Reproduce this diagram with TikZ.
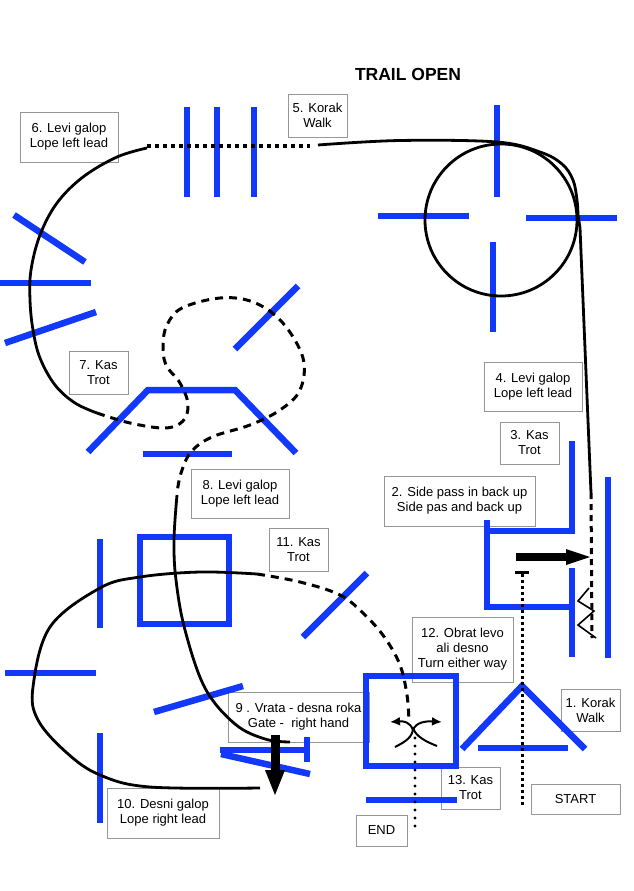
\documentclass[tikz,border=0pt]{standalone}
\usepackage{fontspec}
\setmainfont{Liberation Sans}
\usetikzlibrary{arrows.meta}
\definecolor{poleblue}{RGB}{18,56,250}
\definecolor{boxgray}{RGB}{150,150,150}
\begin{document}
\begin{tikzpicture}[x=1pt,y=-1pt,
  lbl/.style={draw=boxgray,line width=1pt,inner sep=0pt,align=center,font=\fontsize{13}{15}\selectfont},
  pole/.style={draw=poleblue,line width=6.5pt},
  track/.style={draw=black,line width=2.8pt},
  walkdots/.style={draw=black,line width=3.5pt,dash pattern=on 4pt off 4pt},
  startdots/.style={draw=black,line width=3pt,dash pattern=on 3pt off 3pt},
  enddots/.style={draw=black,line width=3.2pt,line cap=round,dash pattern=on 0pt off 8pt},
  trotdash/.style={draw=black,line width=3pt,dash pattern=on 8pt off 6pt},
  sidedash/.style={draw=black,line width=3pt,dash pattern=on 6pt off 5pt},
  thin/.style={draw=black,line width=2pt},
  turnarrow/.style={thin,-{Latex[length=10pt,width=9pt]}}]
\useasboundingbox (0,0) rectangle (633,891);

% title
\node[font=\fontsize{17.5}{20}\selectfont\bfseries] (title) at (408,74) {TRAIL OPEN};

% label boxes
\node[lbl,minimum width=59pt,minimum height=42pt] (l1) at (590.5,710) {1. Korak\\Walk};
\node[lbl,minimum width=151pt,minimum height=50pt] (l2) at (459.5,501) {2. Side pass in back up\\Side pas and back up};
\node[lbl,minimum width=59pt,minimum height=42pt] (l3) at (529.5,443) {3. Kas\\Trot};
\node[lbl,minimum width=98pt,minimum height=49pt] (l4) at (533,386.5) {4. Levi galop\\Lope left lead};
\node[lbl,minimum width=59pt,minimum height=43pt] (l5) at (317.5,115.5) {5. Korak\\Walk};
\node[lbl,minimum width=98pt,minimum height=50pt] (l6) at (69,137) {6. Levi galop\\Lope left lead};
\node[lbl,minimum width=59pt,minimum height=43pt] (l7) at (98.5,372.5) {7. Kas\\Trot};
\node[lbl,minimum width=98pt,minimum height=49pt] (l8) at (240,493.5) {8. Levi galop\\Lope left lead};
\node[lbl,minimum width=141pt,minimum height=50pt] (l9) at (298.5,717) {9 . Vrata - desna roka\\Gate -\ \ right hand};
\node[lbl,minimum width=112pt,minimum height=50pt] (l10) at (163,813) {10. Desni galop\\Lope right lead};
\node[lbl,minimum width=59pt,minimum height=43pt] (l11) at (298.5,549.5) {11. Kas\\Trot};
\node[lbl,minimum width=101pt,minimum height=65pt] (l12) at (462.5,649.5) {12. Obrat levo\\ali desno\\Turn either way};
\node[lbl,minimum width=59pt,minimum height=42pt] (l13) at (470.5,788) {13. Kas\\Trot};
\node[lbl,minimum width=89pt,minimum height=30pt] (start) at (575.5,799) {START};
\node[lbl,minimum width=51pt,minimum height=31pt] (end) at (381.5,830.5) {END};

% ---------- blue obstacles ----------
% poles (walk over)
\draw[pole] (187,107) -- (187,197);
\draw[pole] (217,107) -- (217,197);
\draw[pole] (254,107) -- (254,197);
% left side
\draw[pole] (14,215) -- (85,262);
\draw[pole] (0,283) -- (91,283);
\draw[pole] (5,343) -- (96,312);
% circle cross
\draw[pole] (497,105) -- (497,197);
\draw[pole] (493,242) -- (493,332);
\draw[pole] (378,216) -- (469,216);
\draw[pole] (526,218) -- (617,218);
% trapezoid
\draw[pole,line join=miter] (88,452) -- (148,390) -- (235,390) -- (296,453);
\draw[pole] (143,454) -- (232,454);
\draw[pole] (235,349) -- (298,286);
% side pass
\draw[pole,line join=miter] (572,441) -- (572,531) -- (487,531);
\draw[pole,line join=miter] (487,520) -- (487,607) -- (572,607);
\draw[pole] (572,568) -- (572,657);
\draw[pole] (608,477) -- (608,658);
% lower left
\draw[pole] (100,539) -- (100,628);
\draw[pole] (140,537) rectangle (229,624);
\draw[pole] (5,673) -- (96,673);
\draw[pole] (100,733) -- (100,823);
\draw[pole] (154,712) -- (243,686);
\draw[pole] (303,637) -- (367,573);
% gate
\draw[pole] (220,750) -- (307,750);
\draw[pole] (307,737) -- (307,762);
\draw[pole] (221,754) -- (310,774);
% turn box
\draw[pole] (366,676) rectangle (456,766);
\draw[pole] (366,800) -- (457,800);
% triangle
\draw[pole,line join=miter] (462,749) -- (522,686) -- (585,749);
\draw[pole] (478,748) -- (568,748);

% ---------- track ----------
% start walk
\draw[startdots] (522,574) -- (522,806);
\draw[line width=3pt] (515,572) -- (529,572);
% side pass arrow
\fill (516,553) rectangle (566,561);
\fill (566,549) -- (590,557) -- (566,565) -- cycle;
% zigzag
\draw[thin,line width=1.6pt] (589,588) -- (578,601) -- (594,611) -- (578,625) -- (596,638);
% dashed along side pass
\draw[sidedash] (591,493) -- (592,638);
% lope left lead to circle
\draw[track] (501,220) circle (76);
\draw[track] plot[smooth,tension=0.6] coordinates {(318,145) (400,140.5) (497,142) (540,152) (562,164) (573,180) (577,200) (578,215)} -- (580,228) -- (591,493);
% walk over poles
\draw[walkdots] (147,146) -- (310,146);
% lope left lead (6)
\draw[track] plot[smooth,tension=0.6] coordinates {(147,148) (117,157) (83,177) (57,203) (40,235) (31,270) (30,300) (33,330) (40,358) (55,385) (75,403) (97,413)};
% trot (7)
\draw[trotdash] plot[smooth,tension=0.6] coordinates {(97,413) (130,423) (165,428) (183,421) (188,404) (180,383) (166,365) (163,345) (167,325) (182,308) (220,298) (253,302) (282,322) (303,358) (300,390) (280,410) (250,425) (212,437) (191,452) (181,473) (177,493)};
% lope left lead (8)
\draw[track] plot[smooth,tension=0.6] coordinates {(177,495) (174,540) (176,580) (185,630) (205,688) (235,724) (265,739) (290,742)};
% gate arrow
\fill (270.5,735) rectangle (279.5,771);
\fill (265,770) -- (285,770) -- (275,795) -- cycle;
% lope right lead loop (10)
\draw[track] plot[smooth,tension=0.6] coordinates {(260,788) (150,787) (100,775) (67,753) (38,720) (33,687) (50,627) (100,588) (140,577) (200,572) (257,574)};
% trot (11)
\draw[trotdash] plot[smooth,tension=0.6] coordinates {(257,574) (300,582) (340,595) (365,615) (385,638) (400,665) (407,695) (409,722)};
% turn symbol
\draw[turnarrow] (413,730) .. controls (410,722) and (404,721) .. (390,722);
\draw[turnarrow] (413,730) .. controls (416,722) and (426,721) .. (442,722);
\draw[thin] (413,728) .. controls (413,737) and (405,742) .. (395,747);
\draw[thin] (413,728) .. controls (416,737) and (427,742) .. (437,746);
% trot to end
\draw[enddots] (415,738) -- (415,830);
\end{tikzpicture}
\end{document}
